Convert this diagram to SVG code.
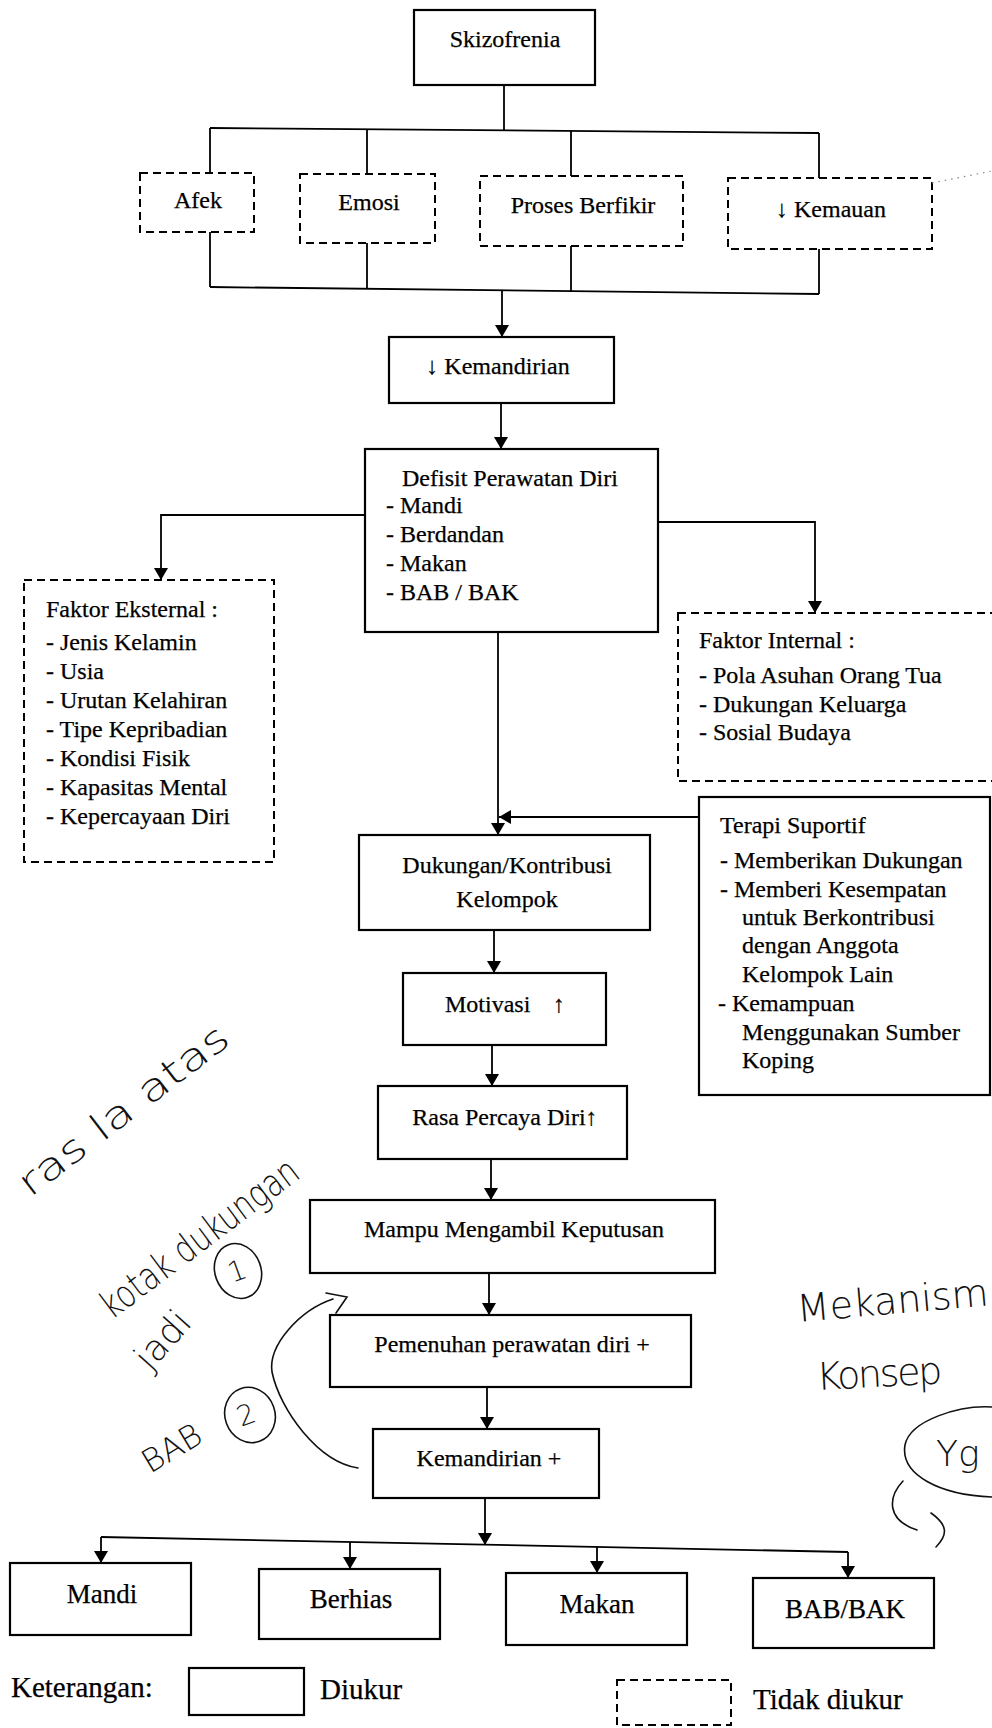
<svg xmlns="http://www.w3.org/2000/svg" width="992" height="1728" viewBox="0 0 992 1728">
<style>
.box{fill:#fff;stroke:#000;stroke-width:2.2}
.dash{fill:#fff;stroke:#000;stroke-width:2;stroke-dasharray:8 5}
.ln{fill:none;stroke:#000;stroke-width:1.8}
.t{font-family:"Liberation Serif","Times New Roman",serif;font-size:24px;fill:#000;stroke:#000;stroke-width:0.25}
.big{font-size:27px}
.leg{font-size:29px}
.c{text-anchor:middle}
.hw{font-family:"DejaVu Sans","Liberation Sans",sans-serif;font-weight:200;fill:#111}
.hl{fill:none;stroke:#111;stroke-width:1.6;stroke-linecap:round}
</style>
<defs>
<marker id="ah" viewBox="0 0 12 16" refX="12" refY="8" markerWidth="12" markerHeight="16" markerUnits="userSpaceOnUse" orient="auto">
<path d="M0,1 L12,8 L0,15 Z" fill="#000"/>
</marker>
</defs>
<rect width="992" height="1728" fill="#fff"/>

<g id="connectors">
<path class="ln" d="M504 85 V130"/>
<path class="ln" d="M210 128 L819 133"/>
<path class="ln" d="M210 128 V173 M367 129 V174 M571 131 V176 M819 133 V178"/>
<path class="ln" d="M210 232 V287 M367 243 V289 M571 246 V291 M819 249 V294"/>
<path class="ln" d="M210 287 L819 294"/>
<path class="ln" d="M502 290 V337" marker-end="url(#ah)"/>
<path class="ln" d="M501 403 V449" marker-end="url(#ah)"/>
<path class="ln" d="M365 515 H161 V580" marker-end="url(#ah)"/>
<path class="ln" d="M658 522 H815 V613" marker-end="url(#ah)"/>
<path class="ln" d="M498 632 V835" marker-end="url(#ah)"/>
<path class="ln" d="M699 817 H499" marker-end="url(#ah)"/>
<path class="ln" d="M494 930 V973" marker-end="url(#ah)"/>
<path class="ln" d="M492 1045 V1086" marker-end="url(#ah)"/>
<path class="ln" d="M491 1159 V1200" marker-end="url(#ah)"/>
<path class="ln" d="M489 1273 V1315" marker-end="url(#ah)"/>
<path class="ln" d="M487 1387 V1429" marker-end="url(#ah)"/>
<path class="ln" d="M485 1498 V1545" marker-end="url(#ah)"/>
<path class="ln" d="M101 1537 L848 1552"/>
<path class="ln" d="M101 1537 V1563" marker-end="url(#ah)"/>
<path class="ln" d="M350 1542 V1569" marker-end="url(#ah)"/>
<path class="ln" d="M597 1547 V1573" marker-end="url(#ah)"/>
<path class="ln" d="M848 1552 V1578" marker-end="url(#ah)"/>
</g>

<g id="skizofrenia"><rect class="box" x="414" y="10" width="181" height="75"/><text class="t c" x="505" y="47">Skizofrenia</text></g>
<g id="afek"><rect class="dash" x="140" y="173" width="114" height="59"/><text class="t c" x="198" y="208">Afek</text></g>
<g id="emosi"><rect class="dash" x="300" y="174" width="135" height="69"/><text class="t c" x="369" y="210">Emosi</text></g>
<g id="proses"><rect class="dash" x="480" y="176" width="203" height="70"/><text class="t c" x="583" y="213">Proses Berfikir</text></g>
<g id="kemauan"><rect class="dash" x="728" y="178" width="204" height="71"/><text class="t c" x="831" y="217">↓ Kemauan</text>
<path d="M932 183 L992 171" stroke="#888" stroke-width="1.2" stroke-dasharray="1.5 5" fill="none"/></g>
<g id="kemandirian"><rect class="box" x="389" y="337" width="225" height="66"/><text class="t c" x="498" y="374">↓ Kemandirian</text></g>
<g id="defisit"><rect class="box" x="365" y="449" width="293" height="183"/>
<text class="t" x="402" y="486">Defisit Perawatan Diri</text>
<text class="t" x="386" y="513">- Mandi</text>
<text class="t" x="386" y="542">- Berdandan</text>
<text class="t" x="386" y="571">- Makan</text>
<text class="t" x="386" y="600">- BAB / BAK</text></g>
<g id="eksternal"><rect class="dash" x="24" y="580" width="250" height="282"/>
<text class="t" x="46" y="617">Faktor Eksternal :</text>
<text class="t" x="46" y="650">- Jenis Kelamin</text>
<text class="t" x="46" y="679">- Usia</text>
<text class="t" x="46" y="708">- Urutan Kelahiran</text>
<text class="t" x="46" y="737">- Tipe Kepribadian</text>
<text class="t" x="46" y="766">- Kondisi Fisik</text>
<text class="t" x="46" y="795">- Kapasitas Mental</text>
<text class="t" x="46" y="824">- Kepercayaan Diri</text></g>
<g id="internal"><rect class="dash" x="678" y="613" width="330" height="168"/>
<text class="t" x="699" y="648">Faktor Internal :</text>
<text class="t" x="699" y="683">- Pola Asuhan Orang Tua</text>
<text class="t" x="699" y="712">- Dukungan Keluarga</text>
<text class="t" x="699" y="740">- Sosial Budaya</text></g>
<g id="terapi"><rect class="box" x="699" y="797" width="291" height="298"/>
<text class="t" x="720" y="833">Terapi Suportif</text>
<text class="t" x="720" y="868">- Memberikan Dukungan</text>
<text class="t" x="720" y="897">- Memberi Kesempatan</text>
<text class="t" x="742" y="925">untuk Berkontribusi</text>
<text class="t" x="742" y="953">dengan Anggota</text>
<text class="t" x="742" y="982">Kelompok Lain</text>
<text class="t" x="718" y="1011">- Kemampuan</text>
<text class="t" x="742" y="1040">Menggunakan Sumber</text>
<text class="t" x="742" y="1068">Koping</text></g>
<g id="dukungan"><rect class="box" x="359" y="835" width="291" height="95"/>
<text class="t c" x="507" y="873">Dukungan/Kontribusi</text>
<text class="t c" x="507" y="907">Kelompok</text></g>
<g id="motivasi"><rect class="box" x="403" y="973" width="203" height="72"/><text class="t" x="445" y="1012">Motivasi<tspan x="553">↑</tspan></text></g>
<g id="rasa"><rect class="box" x="378" y="1086" width="249" height="73"/><text class="t c" x="505" y="1125">Rasa Percaya Diri↑</text></g>
<g id="mampu"><rect class="box" x="310" y="1200" width="405" height="73"/><text class="t c" x="514" y="1237">Mampu Mengambil Keputusan</text></g>
<g id="pemenuhan"><rect class="box" x="330" y="1315" width="361" height="72"/><text class="t c" x="512" y="1352">Pemenuhan perawatan diri +</text></g>
<g id="kemandirian-plus"><rect class="box" x="373" y="1429" width="226" height="69"/><text class="t c" x="489" y="1466">Kemandirian +</text></g>
<g id="mandi"><rect class="box" x="10" y="1563" width="181" height="72"/><text class="t big c" x="102" y="1603">Mandi</text></g>
<g id="berhias"><rect class="box" x="259" y="1569" width="181" height="70"/><text class="t big c" x="351" y="1608">Berhias</text></g>
<g id="makan"><rect class="box" x="506" y="1573" width="181" height="72"/><text class="t big c" x="597" y="1613">Makan</text></g>
<g id="babbak"><rect class="box" x="753" y="1578" width="181" height="70"/><text class="t big c" x="845" y="1618">BAB/BAK</text></g>

<g id="legend">
<text class="t leg" x="11" y="1697">Keterangan:</text>
<rect class="box" x="189" y="1668" width="115" height="47"/>
<text class="t leg" x="320" y="1699">Diukur</text>
<rect class="dash" x="617" y="1680" width="114" height="45"/>
<text class="t leg" x="753" y="1709">Tidak diukur</text>
</g>

<g id="handwriting">
<text class="hw" font-size="38" transform="translate(30,1198) rotate(-37.5)" textLength="255" lengthAdjust="spacingAndGlyphs">ras  la atas</text>
<text class="hw" font-size="38" transform="translate(112,1320) rotate(-37)" textLength="238" lengthAdjust="spacingAndGlyphs">kotak dukungan</text>
<text class="hw" font-size="36" transform="translate(150,1372) rotate(-48)">jadi</text>
<ellipse class="hl" cx="238" cy="1271" rx="23" ry="28" transform="rotate(-20 238 1271)"/>
<text class="hw" font-size="28" transform="translate(232,1283) rotate(-20)">1</text>
<text class="hw" font-size="32" transform="translate(150,1474) rotate(-31)">BAB</text>
<ellipse class="hl" cx="250" cy="1415" rx="25" ry="28" transform="rotate(-20 250 1415)"/>
<text class="hw" font-size="28" transform="translate(241,1427) rotate(-20)">2</text>
<path class="hl" d="M326 1293 L347 1297 L336 1313"/>
<path class="hl" d="M333 1299 C 300 1310, 268 1345, 272 1372 C 280 1410, 318 1462, 358 1468"/>
<text class="hw" font-size="38" transform="translate(798,1322) rotate(-5)" textLength="192" lengthAdjust="spacing">Mekanism</text>
<text class="hw" font-size="38" transform="translate(817,1390) rotate(-3)" textLength="126" lengthAdjust="spacing">Konsep</text>
<path class="hl" d="M992 1407 C 960 1405, 910 1420, 905 1445 C 900 1475, 940 1495, 992 1497"/>
<text class="hw" font-size="36" x="936" y="1466">Yg</text>
<path class="hl" d="M903 1481 C 888 1497, 886 1520, 917 1530 M931 1513 C 948 1525, 948 1535, 936 1547"/>
</g>
</svg>
